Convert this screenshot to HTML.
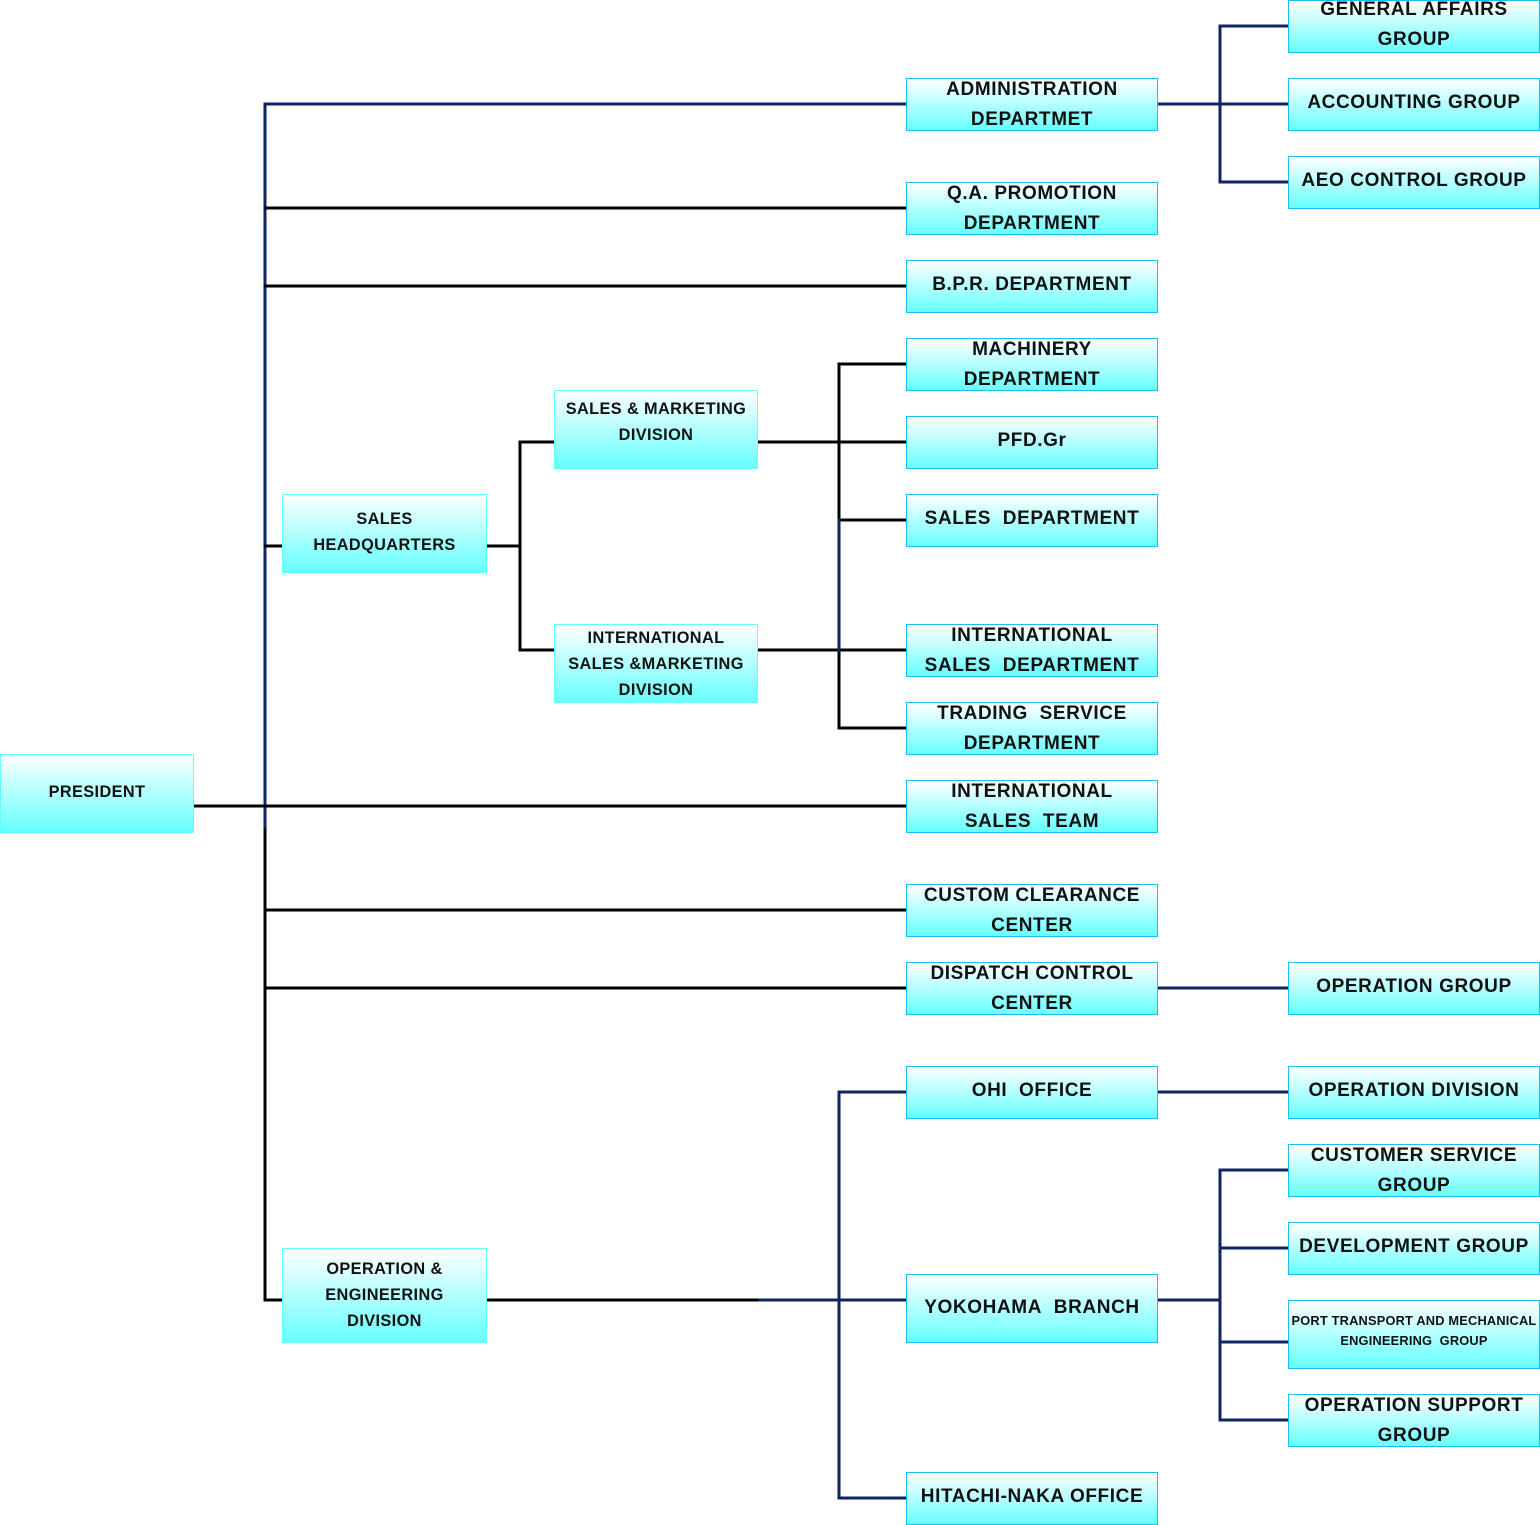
<!DOCTYPE html>
<html><head><meta charset="utf-8"><style>
body{margin:0;width:1540px;height:1525px;background:#fff;position:relative;overflow:hidden;font-family:"Liberation Sans",Verdana,sans-serif;font-weight:bold;color:#111;}
.b{position:absolute;box-sizing:border-box;border:1.5px solid #19c0ee;background:linear-gradient(#ffffff,#66ffff);display:flex;flex-direction:column;justify-content:center;align-items:center;text-align:center;font-size:19px;line-height:30px;padding-bottom:0px;white-space:nowrap;letter-spacing:0.6px}
.s{border-color:#66ffff;font-size:16.3px;line-height:26px;letter-spacing:0.4px}
svg{position:absolute;left:0;top:0}
</style></head><body>
<svg width="1540" height="1525">
<g stroke-width="3" fill="none" stroke-linecap="square">
<path d="M265 104V830" stroke="#0c2462"/>
<path d="M265 830V1300H282" stroke="#000"/>
<path d="M265 104H906" stroke="#0c2462"/>
<path d="M265 208H906M265 286H906M265 546H282M193 806H906M265 910H906M265 988H906" stroke="#000"/>
<path d="M1157 988H1288" stroke="#0c2462"/>
<path d="M1157 104H1288M1220 26V182M1220 26H1288M1220 182H1288" stroke="#0c2462"/>
<path d="M487 546H520M520 442V650M520 442H554M520 650H554M757 442H906M757 650H906M839 364V520M839 364H906M839 520H906M839 650V728H906" stroke="#000"/>
<path d="M839 520V650" stroke="#0c2462"/>
<path d="M487 1300H760" stroke="#000"/>
<path d="M760 1300H906M839 1092V1498M839 1092H906M839 1498H906M1157 1092H1288M1157 1300H1220M1220 1170V1420M1220 1170H1288M1220 1248H1288M1220 1342H1288M1220 1420H1288" stroke="#0c2462"/>
</g></svg>

<div class="b s" style="left:0;top:754px;width:194px;height:79px;padding-bottom:4px">PRESIDENT</div>
<div class="b s" style="left:282px;top:494px;width:205px;height:79px;padding-bottom:4px">SALES<br>HEADQUARTERS</div>
<div class="b s" style="left:554px;top:390px;width:204px;height:79px;padding-bottom:15px">SALES &amp; MARKETING<br>DIVISION</div>
<div class="b s" style="left:554px;top:624px;width:204px;height:79px;padding-bottom:0px">INTERNATIONAL<br>SALES &amp;MARKETING<br>DIVISION</div>
<div class="b s" style="left:282px;top:1248px;width:205px;height:95px;padding-bottom:2px">OPERATION &amp;<br>ENGINEERING<br>DIVISION</div>

<div class="b" style="left:906px;top:78px;width:252px;height:53px">ADMINISTRATION<br>DEPARTMET</div>
<div class="b" style="left:906px;top:182px;width:252px;height:53px">Q.A. PROMOTION<br>DEPARTMENT</div>
<div class="b" style="left:906px;top:260px;width:252px;height:53px;padding-bottom:4px">B.P.R. DEPARTMENT</div>
<div class="b" style="left:906px;top:338px;width:252px;height:53px">MACHINERY<br>DEPARTMENT</div>
<div class="b" style="left:906px;top:416px;width:252px;height:53px;padding-bottom:4px">PFD.Gr</div>
<div class="b" style="left:906px;top:494px;width:252px;height:53px;padding-bottom:4px">SALES&nbsp; DEPARTMENT</div>
<div class="b" style="left:906px;top:624px;width:252px;height:53px">INTERNATIONAL<br>SALES&nbsp; DEPARTMENT</div>
<div class="b" style="left:906px;top:702px;width:252px;height:53px">TRADING&nbsp; SERVICE<br>DEPARTMENT</div>
<div class="b" style="left:906px;top:780px;width:252px;height:53px">INTERNATIONAL<br>SALES&nbsp; TEAM</div>
<div class="b" style="left:906px;top:884px;width:252px;height:53px">CUSTOM CLEARANCE<br>CENTER</div>
<div class="b" style="left:906px;top:962px;width:252px;height:53px">DISPATCH CONTROL<br>CENTER</div>
<div class="b" style="left:906px;top:1066px;width:252px;height:53px;padding-bottom:4px">OHI&nbsp; OFFICE</div>
<div class="b" style="left:906px;top:1274px;width:252px;height:69px;padding-bottom:2px">YOKOHAMA&nbsp; BRANCH</div>
<div class="b" style="left:906px;top:1472px;width:252px;height:53px;padding-bottom:4px">HITACHI-NAKA OFFICE</div>

<div class="b" style="left:1288px;top:0;width:252px;height:53px;padding-bottom:4px">GENERAL AFFAIRS<br>GROUP</div>
<div class="b" style="left:1288px;top:78px;width:252px;height:53px;padding-bottom:4px">ACCOUNTING GROUP</div>
<div class="b" style="left:1288px;top:156px;width:252px;height:53px;padding-bottom:4px">AEO CONTROL GROUP</div>
<div class="b" style="left:1288px;top:962px;width:252px;height:53px;padding-bottom:4px">OPERATION GROUP</div>
<div class="b" style="left:1288px;top:1066px;width:252px;height:53px;padding-bottom:4px">OPERATION DIVISION</div>
<div class="b" style="left:1288px;top:1144px;width:252px;height:53px">CUSTOMER SERVICE<br>GROUP</div>
<div class="b" style="left:1288px;top:1222px;width:252px;height:53px;padding-bottom:4px">DEVELOPMENT GROUP</div>
<div class="b" style="left:1288px;top:1300px;width:252px;height:69px;font-size:12.8px;line-height:20px;padding-bottom:8px;letter-spacing:0.2px">PORT TRANSPORT AND MECHANICAL<br>ENGINEERING&nbsp; GROUP</div>
<div class="b" style="left:1288px;top:1394px;width:252px;height:53px">OPERATION SUPPORT<br>GROUP</div>
</body></html>
